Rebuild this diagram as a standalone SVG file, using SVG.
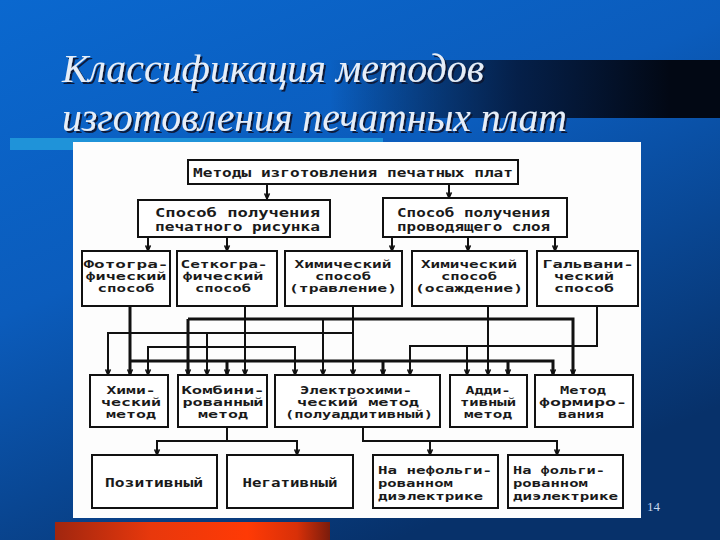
<svg xmlns="http://www.w3.org/2000/svg" width="720" height="540" viewBox="0 0 720 540">
<defs>
<linearGradient id="bg" x1="0" y1="0" x2="0.55" y2="1">
<stop offset="0" stop-color="#0a68cf"/>
<stop offset="0.45" stop-color="#0b5cbc"/>
<stop offset="1" stop-color="#07316a"/>
</linearGradient>
<linearGradient id="band" x1="330" y1="0" x2="670" y2="0" gradientUnits="userSpaceOnUse">
<stop offset="0" stop-color="#020a1c" stop-opacity="0"/>
<stop offset="0.55" stop-color="#041535" stop-opacity="0.85"/>
<stop offset="1" stop-color="#020814" stop-opacity="1"/>
</linearGradient>
<linearGradient id="red" x1="55" y1="0" x2="330" y2="0" gradientUnits="userSpaceOnUse">
<stop offset="0" stop-color="#a0260f"/>
<stop offset="0.35" stop-color="#e8380c"/>
<stop offset="0.7" stop-color="#ff3a05"/>
<stop offset="0.88" stop-color="#d83008"/>
<stop offset="1" stop-color="#7a1c0c"/>
</linearGradient>
<filter id="sh" x="-5%" y="-20%" width="110%" height="140%">
<feDropShadow dx="2" dy="2" stdDeviation="0.6" flood-color="#081630" flood-opacity="0.95"/>
</filter>
<marker id="ah" viewBox="0 0 10 10" refX="9" refY="5" markerWidth="7" markerHeight="7" markerUnits="userSpaceOnUse" orient="auto">
<path d="M1,1.5 L9,5 L1,8.5" fill="none" stroke="#111" stroke-width="2.2"/>
</marker>
<style>
.box{fill:#fff;stroke:#111;stroke-width:2}
.t{font-family:"DejaVu Sans Mono","Liberation Mono",monospace;font-size:11px;font-weight:bold;fill:#1a1a1a;text-anchor:middle}
.tl{font-family:"DejaVu Sans Mono","Liberation Mono",monospace;font-size:11px;font-weight:bold;fill:#1a1a1a}
.t1{font-family:"DejaVu Sans Mono","Liberation Mono",monospace;font-size:12px;font-weight:bold;fill:#1a1a1a}
.title{font-family:"Liberation Serif","DejaVu Serif",serif;font-style:italic;font-size:39px;fill:#e6eef8}
.c{fill:none;stroke:#111;stroke-width:2}
.ck{fill:none;stroke:#111;stroke-width:3}
</style>
</defs>

<rect x="0" y="0" width="720" height="540" fill="url(#bg)"/>
<rect x="300" y="60" width="420" height="58" fill="url(#band)"/>
<rect x="10" y="138" width="373" height="12" fill="#1f93d9"/>
<rect x="55" y="522" width="275" height="18" fill="url(#red)"/>

<g filter="url(#sh)">
<text class="title" x="62" y="82" textLength="422" lengthAdjust="spacingAndGlyphs">Классификация методов</text>
<text class="title" x="62" y="131" textLength="505" lengthAdjust="spacingAndGlyphs">изготовления печатных плат</text>
</g>

<rect x="73" y="142" width="568" height="376" fill="#fdfdfd"/>

<g id="connectors">
<path class="c" d="M267,184 V199" marker-end="url(#ah)"/>
<path class="c" d="M449,184 V198" marker-end="url(#ah)"/>
<path class="c" d="M148,237 V251" marker-end="url(#ah)"/>
<path class="c" d="M227,237 V251" marker-end="url(#ah)"/>
<path class="c" d="M392,237 V251" marker-end="url(#ah)"/>
<path class="c" d="M468,237 V251" marker-end="url(#ah)"/>
<path class="c" d="M555,237 V251" marker-end="url(#ah)"/>

<path class="ck" d="M130,306 V375" marker-end="url(#ah)"/>
<path class="ck" d="M130,361 H553 V375" marker-end="url(#ah)"/>
<path class="ck" d="M227,361 V375" marker-end="url(#ah)"/>
<path class="ck" d="M383,361 V375" marker-end="url(#ah)"/>
<path class="ck" d="M508,361 V375" marker-end="url(#ah)"/>

<path class="c" d="M245,306 V375" marker-end="url(#ah)"/>
<path class="ck" d="M188,319 H573 V375" marker-end="url(#ah)"/>
<path class="ck" d="M188,319 V375" marker-end="url(#ah)"/>
<path class="c" d="M323,319 V375" marker-end="url(#ah)"/>

<path class="c" d="M353,306 V375" marker-end="url(#ah)"/>
<path class="c" d="M353,333 H108 V375" marker-end="url(#ah)"/>
<path class="c" d="M207,333 V375" marker-end="url(#ah)"/>

<path class="c" d="M220,347 H148 V375" marker-end="url(#ah)"/>
<path class="c" d="M220,347 H295 V375" marker-end="url(#ah)"/>

<path class="c" d="M488,306 V375" marker-end="url(#ah)"/>
<path class="c" d="M597,306 V346 H410 V375" marker-end="url(#ah)"/>
<path class="c" d="M467,346 V375" marker-end="url(#ah)"/>

<path class="c" d="M227,427 V441 H157 V455" marker-end="url(#ah)"/>
<path class="c" d="M227,441 H297 V455" marker-end="url(#ah)"/>
<path class="c" d="M363,427 V441 H430 V455" marker-end="url(#ah)"/>
<path class="c" d="M430,441 H557 V455" marker-end="url(#ah)"/>
</g>

<g id="n-root">
<rect class="box" x="188" y="160" width="330" height="24"/>
<text class="t1" x="193" y="177" textLength="320" lengthAdjust="spacingAndGlyphs" font-size="13">Методы изготовления печатных плат</text>
</g>

<g id="n-print">
<rect class="box" x="138" y="200" width="192" height="37"/>
<text class="t1" x="155" y="217" textLength="165" lengthAdjust="spacingAndGlyphs">Способ получения</text>
<text class="t1" x="155" y="231" textLength="165" lengthAdjust="spacingAndGlyphs">печатного рисунка</text>
</g>

<g id="n-cond">
<rect class="box" x="383" y="198" width="184" height="39"/>
<text class="t1" x="397" y="217" textLength="153" lengthAdjust="spacingAndGlyphs">Способ получения</text>
<text class="t1" x="397" y="231" textLength="153" lengthAdjust="spacingAndGlyphs">проводящего слоя</text>
</g>

<g id="n-photo">
<rect class="box" x="82" y="251" width="88" height="55"/>
<text class="t" x="126" y="268" textLength="85" lengthAdjust="spacingAndGlyphs">Фотогра-</text>
<text class="t" x="126" y="280" textLength="81" lengthAdjust="spacingAndGlyphs">фический</text>
<text class="t" x="126" y="292" textLength="57" lengthAdjust="spacingAndGlyphs">способ</text>
</g>

<g id="n-screen">
<rect class="box" x="177" y="251" width="100" height="55"/>
<text class="t" x="224" y="268" textLength="87" lengthAdjust="spacingAndGlyphs">Сеткогра-</text>
<text class="t" x="223" y="280" textLength="81" lengthAdjust="spacingAndGlyphs">фический</text>
<text class="t" x="223" y="292" textLength="56" lengthAdjust="spacingAndGlyphs">способ</text>
</g>

<g id="n-etch">
<rect class="box" x="285" y="251" width="117" height="55"/>
<text class="t" x="343" y="268" textLength="97" lengthAdjust="spacingAndGlyphs">Химический</text>
<text class="t" x="343" y="280" textLength="56" lengthAdjust="spacingAndGlyphs">способ</text>
<text class="t" x="343" y="292" textLength="108" lengthAdjust="spacingAndGlyphs">(травление)</text>
</g>

<g id="n-depo">
<rect class="box" x="412" y="251" width="115" height="55"/>
<text class="t" x="469" y="268" textLength="96" lengthAdjust="spacingAndGlyphs">Химический</text>
<text class="t" x="469" y="280" textLength="56" lengthAdjust="spacingAndGlyphs">способ</text>
<text class="t" x="469" y="292" textLength="108" lengthAdjust="spacingAndGlyphs">(осаждение)</text>
</g>

<g id="n-galv">
<rect class="box" x="537" y="251" width="101" height="55"/>
<text class="t" x="588" y="268" textLength="91" lengthAdjust="spacingAndGlyphs">Гальвани-</text>
<text class="t" x="584" y="280" textLength="60" lengthAdjust="spacingAndGlyphs">ческий</text>
<text class="t" x="584" y="292" textLength="60" lengthAdjust="spacingAndGlyphs">способ</text>
</g>

<g id="n-chem">
<rect class="box" x="90" y="375" width="78" height="52"/>
<text class="t" x="131" y="394" textLength="49" lengthAdjust="spacingAndGlyphs">Хими-</text>
<text class="t" x="131" y="406" textLength="60" lengthAdjust="spacingAndGlyphs">ческий</text>
<text class="t" x="131" y="418" textLength="50" lengthAdjust="spacingAndGlyphs">метод</text>
</g>

<g id="n-comb">
<rect class="box" x="178" y="375" width="89" height="52"/>
<text class="t" x="223" y="394" textLength="83" lengthAdjust="spacingAndGlyphs">Комбини-</text>
<text class="t" x="223" y="406" textLength="81" lengthAdjust="spacingAndGlyphs">рованный</text>
<text class="t" x="223" y="418" textLength="50" lengthAdjust="spacingAndGlyphs">метод</text>
</g>

<g id="n-electro">
<rect class="box" x="275" y="375" width="165" height="52"/>
<text class="t" x="356" y="394" textLength="112" lengthAdjust="spacingAndGlyphs">Электрохими-</text>
<text class="t" x="358" y="406" textLength="122" lengthAdjust="spacingAndGlyphs">ческий метод</text>
<text class="t" x="359" y="418" textLength="148" lengthAdjust="spacingAndGlyphs">(полуаддитивный)</text>
</g>

<g id="n-add">
<rect class="box" x="450" y="375" width="77" height="52"/>
<text class="t" x="488" y="394" textLength="45" lengthAdjust="spacingAndGlyphs">Адди-</text>
<text class="t" x="488" y="406" textLength="56" lengthAdjust="spacingAndGlyphs">тивный</text>
<text class="t" x="488" y="418" textLength="48" lengthAdjust="spacingAndGlyphs">метод</text>
</g>

<g id="n-form">
<rect class="box" x="535" y="375" width="98" height="52"/>
<text class="t" x="583" y="394" textLength="46" lengthAdjust="spacingAndGlyphs">Метод</text>
<text class="t" x="583" y="406" textLength="88" lengthAdjust="spacingAndGlyphs">формиро-</text>
<text class="t" x="581" y="418" textLength="46" lengthAdjust="spacingAndGlyphs">вания</text>
</g>

<g id="n-pos">
<rect class="box" x="92" y="455" width="125" height="53"/>
<text class="t1" x="154" y="487" text-anchor="middle" textLength="98" lengthAdjust="spacingAndGlyphs">Позитивный</text>
</g>

<g id="n-neg">
<rect class="box" x="227" y="455" width="126" height="53"/>
<text class="t1" x="290" y="487" text-anchor="middle" textLength="95" lengthAdjust="spacingAndGlyphs">Негативный</text>
</g>

<g id="n-nonfoil">
<rect class="box" x="373" y="455" width="125" height="53"/>
<text class="tl" x="378" y="474" textLength="114" lengthAdjust="spacingAndGlyphs">На нефольги-</text>
<text class="tl" x="378" y="487" textLength="75" lengthAdjust="spacingAndGlyphs">рованном</text>
<text class="tl" x="378" y="500" textLength="105" lengthAdjust="spacingAndGlyphs">диэлектрике</text>
</g>

<g id="n-foil">
<rect class="box" x="508" y="455" width="115" height="53"/>
<text class="tl" x="513" y="474" textLength="92" lengthAdjust="spacingAndGlyphs">На фольги-</text>
<text class="tl" x="513" y="487" textLength="75" lengthAdjust="spacingAndGlyphs">рованном</text>
<text class="tl" x="513" y="500" textLength="105" lengthAdjust="spacingAndGlyphs">диэлектрике</text>
</g>

<text x="647" y="511" font-family="Liberation Serif, serif" font-size="13" fill="#c8d8ee">14</text>
</svg>
